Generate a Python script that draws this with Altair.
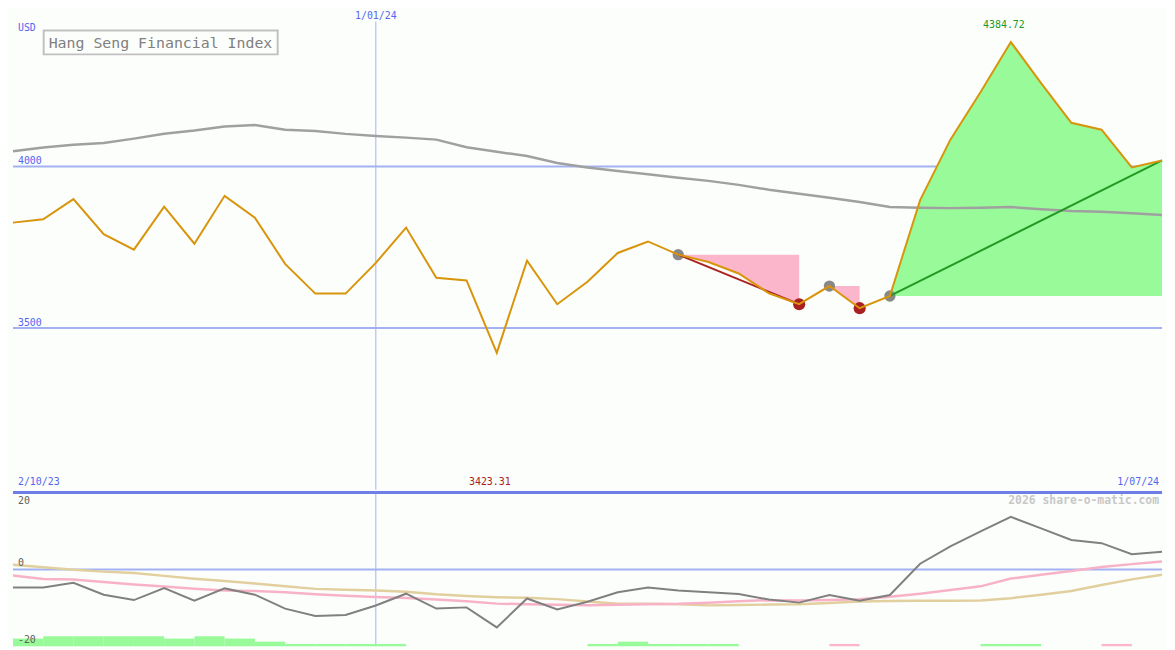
import altair as alt
import pandas as pd

# ---------------- data (weekly, 9 Oct 2023 .. 1 Jul 2024) ----------------
idx = list(range(39))
price = [3826.0, 3836.5, 3898.8, 3790.5, 3742.3, 3875.2, 3760.7, 3908.9, 3841.4, 3698.5,
         3606.4, 3606.4, 3701.5, 3810.7, 3655.5, 3647.2, 3423.31, 3708.6, 3573.6, 3643.3,
         3732.2, 3767.8, 3727.0, 3704.0, 3668.7, 3607.4, 3573.6, 3629.8, 3561.3, 3599.1,
         3895.7, 4082.8, 4230.0, 4384.72, 4257.7, 4135.0, 4113.5, 3997.0, 4018.4]
ma_long = [4046.9, 4058.3, 4066.9, 4072.7, 4085.9, 4101.2, 4111.3, 4123.6, 4127.9, 4113.5,
           4109.8, 4100.6, 4094.2, 4089.0, 4082.8, 4059.2, 4045.1, 4032.2, 4010.7, 3996.9,
           3985.9, 3975.5, 3964.7, 3955.2, 3942.9, 3927.9, 3915.6, 3903.1, 3889.6, 3874.2,
           3872.1, 3870.9, 3871.8, 3874.2, 3867.5, 3862.0, 3859.8, 3855.2, 3849.7]
osc = [-4.69, -4.69, -3.46, -6.57, -7.98, -4.84, -8.15, -4.94, -6.57, -10.2,
       -12.1, -11.85, -9.38, -6.32, -10.2, -9.88, -15.1, -7.56, -10.4, -8.4,
       -5.93, -4.69, -5.5, -5.93, -6.4, -7.85, -8.64, -6.67, -8.15, -6.67,
       1.48, 6.02, 9.9, 13.68, 10.67, 7.65, 6.84, 3.95, 4.62]
osc_fast = [-1.56, -2.47, -2.62, -3.28, -3.9, -4.44, -5.01, -5.46, -5.63, -5.95,
            -6.44, -6.84, -7.16, -7.41, -7.8, -8.3, -8.9, -9.06, -9.19, -9.33,
            -9.21, -9.04, -8.96, -8.67, -8.27, -8.0, -8.07, -7.98, -7.78, -7.11,
            -6.32, -5.36, -4.4, -2.37, -1.38, -0.4, 0.64, 1.38, 2.07]
osc_slow = [1.23, 0.54, -0.07, -0.57, -0.94, -1.68, -2.42, -3.04, -3.65, -4.4,
            -5.06, -5.31, -5.51, -5.83, -6.49, -6.91, -7.23, -7.38, -7.73, -8.32,
            -8.96, -8.96, -9.09, -9.36, -9.26, -9.14, -9.04, -8.72, -8.37, -8.22,
            -8.17, -8.15, -8.07, -7.48, -6.57, -5.63, -4.07, -2.59, -1.41]
hist = [2.0, 2.6, 2.6, 2.6, 2.6, 2.0, 2.6, 2.0, 1.2, 0.6, 0.6, 0.6, 0.6,
        0, 0, 0, 0, 0, 0, 0.6, 1.2, 0.6, 0.6, 0.6, 0, 0, 0, -0.6,
        0, 0, 0, 0, 0.6, 0.6, 0, 0, -0.6, 0]
price_levels = [4000, 3500]
osc_levels = [0]
date_labels = ["2/10/23", "1/01/24", "1/07/24"]
year_idx = 12
title = "Hang Seng Financial Index"

# ---------------- style ----------------
FONT = "DejaVu Sans Mono"
BLUE_TXT = "#5566ee"
GRID = "#a3b1f2"
BG = "#fcfefc"
W, HT, HB = 1159, 479, 155

xs = alt.Scale(domain=[0, 38], nice=False, zero=False)
yt = alt.Scale(domain=[3000, 4469.3], nice=False, zero=False)
yb = alt.Scale(domain=[-20, 20], nice=False, zero=False)


def X(f="idx"):
    return alt.X(f"{f}:Q", scale=xs, axis=None)


def X2(f):
    return alt.X2(f"{f}:Q")


def YT(f):
    return alt.Y(f"{f}:Q", scale=yt, axis=None)


def YB(f):
    return alt.Y(f"{f}:Q", scale=yb, axis=None)


df = pd.DataFrame({"idx": idx, "price": price, "ma": ma_long,
                   "osc": osc, "fast": osc_fast, "slow": osc_slow})

down1 = df.iloc[22:27].assign(base=price[22])
down2 = df.iloc[27:29].assign(base=price[27])
up1 = df.iloc[29:39].assign(base=price[29])
trend_dn = pd.DataFrame({"idx": [22, 26], "price": [price[22], price[26]]})
trend_up = pd.DataFrame({"idx": [29, 38], "price": [price[29], price[38]]})
gray_pts = df.iloc[[22, 27, 29]]
red_pts = df.iloc[[26, 28]]
lv = pd.DataFrame({"lvl": price_levels, "txt": [str(v) for v in price_levels]})
one = pd.DataFrame({"a": [0]})
vline = pd.DataFrame({"idx": [year_idx]})
peak = df.iloc[[int(pd.Series(price).idxmax())]]
low = df.iloc[[int(pd.Series(price).idxmin())]]

# ---------------- top panel ----------------
hrules = alt.Chart(lv).mark_rule(color=GRID, strokeWidth=2).encode(y=YT("lvl"))
vrule_t = alt.Chart(vline).mark_rule(color=GRID, strokeWidth=1).encode(
    x=X(), y=alt.value(7), y2=alt.value(HT))
ma_line = alt.Chart(df).mark_line(color="#a0a0a0", strokeWidth=2.5).encode(x=X(), y=YT("ma"))
pink1 = alt.Chart(down1).mark_area(color="#fbb6cb", opacity=1).encode(x=X(), y=YT("base"), y2=alt.Y2("price:Q"))
pink2 = alt.Chart(down2).mark_area(color="#fbb6cb", opacity=1).encode(x=X(), y=YT("base"), y2=alt.Y2("price:Q"))
green = alt.Chart(up1).mark_area(color="#98fa98", opacity=1).encode(x=X(), y=YT("base"), y2=alt.Y2("price:Q"))
gdots = alt.Chart(gray_pts).mark_circle(color="#888888", size=130, opacity=1).encode(x=X(), y=YT("price"))
rdots = alt.Chart(red_pts).mark_circle(color="#a82020", size=150, opacity=1).encode(x=X(), y=YT("price"))
tdn = alt.Chart(trend_dn).mark_line(color="#aa2222", strokeWidth=2).encode(x=X(), y=YT("price"))
tup = alt.Chart(trend_up).mark_line(color="#229922", strokeWidth=2).encode(x=X(), y=YT("price"))
pline = alt.Chart(df).mark_line(color="#d8940a", strokeWidth=2).encode(x=X(), y=YT("price"))

lvl_txt = alt.Chart(lv).mark_text(align="left", baseline="middle", dy=-5, font=FONT,
                                  fontSize=10, color=BLUE_TXT).encode(
    x=alt.value(5), y=YT("lvl"), text="txt:N")
usd = alt.Chart(one).mark_text(align="left", baseline="middle", font=FONT, fontSize=10,
                               color=BLUE_TXT, text="USD").encode(x=alt.value(5), y=alt.value(13))
tbox = alt.Chart(one).mark_rect(fill=BG, stroke="#c0c0c0", strokeWidth=2).encode(
    x=alt.value(31), x2=alt.value(267), y=alt.value(16), y2=alt.value(40))
ttxt = alt.Chart(one).mark_text(align="left", baseline="middle", font=FONT, fontSize=15,
                                color="#808080", text=title).encode(x=alt.value(36), y=alt.value(28.5))
d_mid = alt.Chart(vline).mark_text(align="center", baseline="middle", font=FONT, fontSize=10,
                                   color=BLUE_TXT, text=date_labels[1]).encode(x=X(), y=alt.value(1))
d_left = alt.Chart(one).mark_text(align="left", baseline="middle", font=FONT, fontSize=10,
                                  color=BLUE_TXT, text=date_labels[0]).encode(x=alt.value(5), y=alt.value(471))
d_right = alt.Chart(one).mark_text(align="right", baseline="middle", font=FONT, fontSize=10,
                                   color=BLUE_TXT, text=date_labels[2]).encode(x=alt.value(W - 3), y=alt.value(471))
peak_txt = alt.Chart(peak).mark_text(align="center", baseline="middle", dx=-7, dy=-17, font=FONT,
                                     fontSize=10, color="#229922").encode(
    x=X(), y=YT("price"), text=alt.Text("price:Q", format=".2f"))
low_txt = alt.Chart(low).mark_text(align="center", baseline="middle", dx=-7, font=FONT,
                                   fontSize=10, color="#aa2020").encode(
    x=X(), y=alt.value(471), text=alt.Text("price:Q", format=".2f"))

top = alt.layer(hrules, vrule_t, pink1, pink2, green, ma_line, gdots, rdots, tdn, tup, pline,
                lvl_txt, usd, tbox, ttxt, d_mid, d_left, d_right, peak_txt, low_txt
                ).properties(width=W, height=HT)

# ---------------- bottom panel ----------------
bars_df = pd.DataFrame({"idx": list(range(len(hist))), "h": hist})
bars_df = bars_df[bars_df["h"] != 0].copy()
bars_df["x2"] = bars_df["idx"] + 1
bars_df["y0"] = -20
bars_df["y1"] = -20 + bars_df["h"].abs()
bars_df["sign"] = ["pos" if v > 0 else "neg" for v in bars_df["h"]]

zl = pd.DataFrame({"lvl": osc_levels})
zero_rule = alt.Chart(zl).mark_rule(color=GRID, strokeWidth=2).encode(y=YB("lvl"))
vrule_b = alt.Chart(vline).mark_rule(color=GRID, strokeWidth=1).encode(x=X())
sep = alt.Chart(pd.DataFrame({"lvl": [20]})).mark_rule(color="#6f7fe8", strokeWidth=3).encode(y=YB("lvl"))
bars = alt.Chart(bars_df).mark_rect().encode(
    x=X(), x2=X2("x2"), y=YB("y0"), y2=alt.Y2("y1:Q"),
    color=alt.Color("sign:N", scale=alt.Scale(domain=["pos", "neg"], range=["#98fa98", "#fbb6cb"]),
                    legend=None))
slow_l = alt.Chart(df).mark_line(color="#e2cf9e", strokeWidth=2.5).encode(x=X(), y=YB("slow"))
fast_l = alt.Chart(df).mark_line(color="#f8b2c8", strokeWidth=2.5).encode(x=X(), y=YB("fast"))
osc_l = alt.Chart(df).mark_line(color="#808080", strokeWidth=2).encode(x=X(), y=YB("osc"))

lab20 = alt.Chart(one).mark_text(align="left", baseline="middle", font=FONT, fontSize=10,
                                 color="#606060", text="20").encode(x=alt.value(5), y=alt.value(9))
labs = alt.Chart(pd.DataFrame({"lvl": [0, -20], "txt": ["0", "-20"]})).mark_text(
    align="left", baseline="middle", dy=-6, font=FONT, fontSize=10, color="#606060").encode(
    x=alt.value(5), y=YB("lvl"), text="txt:N")
credit = alt.Chart(one).mark_text(align="right", baseline="middle", font=FONT, fontSize=11.5,
                                  fontWeight="bold", color="#c8c8c8",
                                  text="2026 share-o-matic.com").encode(x=alt.value(W - 3), y=alt.value(9))

bottom = alt.layer(zero_rule, vrule_b, bars, slow_l, fast_l, osc_l, sep, lab20, labs, credit
                   ).properties(width=W, height=HB)

chart = alt.vconcat(top, bottom, spacing=0).properties(
    padding=0, background=BG
).configure_view(stroke=None).configure_concat(spacing=0)

chart.save("out.html", embed_options={"renderer": "svg", "actions": False})
